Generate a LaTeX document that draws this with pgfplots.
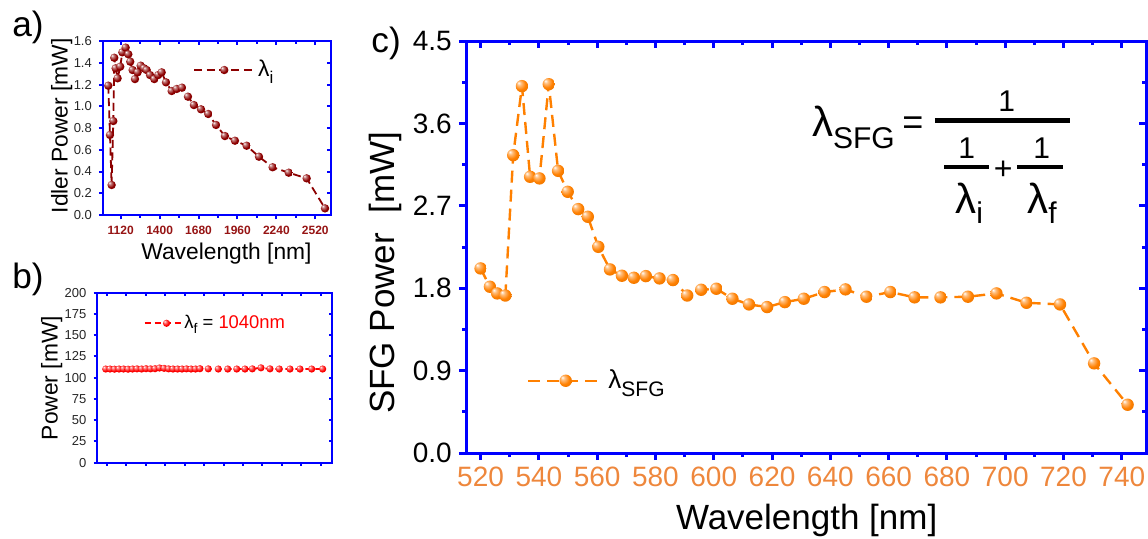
\documentclass[border=0pt]{standalone}
\usepackage{fontspec}
\setmainfont{Liberation Sans}
\usepackage{pgfplots}
\usepackage{pgfplotstable}
\pgfplotsset{compat=1.18}

\definecolor{axblue}{RGB}{0,0,255}
\definecolor{sfgorange}{RGB}{255,128,0}
\definecolor{sfgtick}{RGB}{238,135,60}
\definecolor{idlerred}{RGB}{140,0,0}
\definecolor{idlertick}{RGB}{150,20,20}
\definecolor{fundred}{RGB}{255,0,0}
\colorlet{mball}{sfgorange}
\newcommand{\fs}[1]{\fontsize{#1}{#1}\selectfont}

% soft shaded ball, colour taken from mball at use time
\pgfdeclareradialshading[mball]{softball}{\pgfpoint{-14bp}{14bp}}{%
  color(0bp)=(white); color(8bp)=(mball!50!white); color(22bp)=(mball);
  color(44bp)=(mball!85!black); color(50bp)=(mball!78!black)}
\pgfdeclareplotmark{ballO}{\colorlet{mball}{sfgorange}%
  \pgfpathcircle{\pgfpointorigin}{\pgfplotmarksize}\pgfshadepath{softball}{0}\pgfusepath{discard}}
\pgfdeclareplotmark{ballR}{\colorlet{mball}{fundred}%
  \pgfpathcircle{\pgfpointorigin}{\pgfplotmarksize}\pgfshadepath{softball}{0}\pgfusepath{discard}}
\pgfdeclareplotmark{ballD}{\colorlet{mball}{idlerred}%
  \pgfpathcircle{\pgfpointorigin}{\pgfplotmarksize}\pgfshadepath{softball}{0}\pgfusepath{discard}}

% idler power vs idler wavelength
\pgfplotstableread{
wl P
1031 1.189
1043 0.736
1055 0.276
1067 0.864
1074 1.446
1084 1.349
1098 1.257
1117 1.364
1132 1.496
1156 1.539
1175 1.478
1189 1.410
1206 1.333
1223 1.250
1242 1.312
1264 1.373
1288 1.349
1307 1.333
1331 1.287
1362 1.250
1390 1.287
1415 1.312
1446 1.220
1487 1.140
1523 1.159
1561 1.171
1604 1.088
1647 1.011
1698 0.972
1750 0.929
1806 0.828
1870 0.726
1942 0.683
2026 0.637
2115 0.536
2213 0.439
2329 0.389
2458 0.337
2590 0.061
}\idler

% fundamental power (constant)
\pgfplotstableread{
wl P
1012 110.2
1043 110.2
1075 110.0
1108 110.2
1140 110.2
1173 110.0
1205 110.2
1237 110.4
1270 110.2
1302 110.6
1334 110.4
1367 110.6
1399 111.4
1432 111.0
1464 110.4
1496 110.2
1529 110.2
1561 110.2
1593 110.4
1626 110.2
1658 110.2
1690 110.6
1750 110.4
1822 110.2
1890 110.2
1955 110.2
2014 110.2
2067 110.4
2129 111.6
2194 110.4
2261 110.2
2338 110.2
2410 110.2
2494 110.2
2573 110.2
}\fund

% SFG power vs SFG wavelength
\pgfplotstableread{
wl P
520.0 2.016
523.2 1.816
525.7 1.743
528.5 1.720
531.2 3.253
534.2 4.007
537.0 3.017
540.2 2.999
543.4 4.028
546.6 3.082
549.9 2.853
553.5 2.664
556.8 2.580
560.4 2.252
564.4 2.005
568.5 1.936
572.6 1.914
576.7 1.932
581.4 1.907
586.0 1.889
590.9 1.720
595.7 1.783
600.9 1.794
606.4 1.685
612.1 1.623
618.3 1.594
624.4 1.648
630.9 1.685
638.0 1.758
645.2 1.787
652.4 1.707
660.6 1.758
668.9 1.700
677.8 1.700
687.2 1.707
697.0 1.743
707.3 1.641
718.8 1.623
730.5 0.979
742.0 0.527
}\sfg

\pgfplotsset{
  panel/.style={scale only axis, anchor=south west,
    axis line style={axblue, line width=#1},
    tick style={axblue, line width=#1},
    /pgf/number format/assume math mode=true},
  mirror/.style={tick pos=right, tick align=inside, xticklabels={}, yticklabels={}},
  main/.style={tick pos=left, tick align=outside},
  oned/.style={/pgf/number format/.cd, fixed, fixed zerofill, precision=1},
}

\begin{document}
\begin{tikzpicture}
\path[use as bounding box] (0,0) rectangle (574pt,269pt);

% ---------- panel a ----------
\pgfplotsset{pa/.style={panel=1pt, at={(51.65pt,161.5pt)}, width=113.85pt, height=87pt,
  xmin=995, xmax=2633, ymin=0, ymax=1.6,
  xtick={1120,1400,1680,1960,2240,2520}, minor x tick num=1,
  ytick={0,0.2,0.4,0.6,0.8,1.0,1.2,1.4,1.6},
  major tick length=2.2pt, minor tick length=1.3pt}}
\begin{axis}[pa, mirror]
\end{axis}
\begin{axis}[pa, main,
  xticklabel style={font=\bfseries\fs{6}, text=idlertick, /pgf/number format/1000 sep={}},
  yticklabel style={font=\fs{6.5}, text=black!85, oned},
  xlabel={Wavelength [nm]}, ylabel={Idler Power [mW]},
  label style={font=\fs{11.4}},
  xlabel style={at={(axis description cs:0.541,-0.224)}, anchor=center},
  ylabel style={at={(axis description cs:-0.183,0.513)}, anchor=center},
  legend style={at={(axis cs:1640,1.333)}, anchor=west, draw=none, fill=none,
    inner sep=0pt, nodes={inner sep=1.5pt}},
  legend image code/.code={\draw[mark repeat=2, mark phase=2, #1]
    plot coordinates {(0pt,0pt) (15pt,0pt) (30pt,0pt)};}]
\addplot[idlerred, line width=0.9pt, line join=round, dash pattern=on 4pt off 2.2pt,
  mark=ballD, mark size=2.1pt, mark options={solid}]
  table[x=wl, y=P] {\idler};
\addlegendentry{\fs{11.4}λ\raisebox{-3.5pt}{\fs{8.5}i}}
\end{axis}

% ---------- panel b ----------
\pgfplotsset{pb/.style={panel=1pt, at={(48.35pt,37.65pt)}, width=117.5pt, height=85pt,
  xmin=947, xmax=2638, ymin=0, ymax=200,
  xtick={1020,1160,1300,1440,1580,1720,1860,2000,2140,2280,2420,2560},
  ytick={0,25,50,75,100,125,150,175,200},
  major tick length=1.6pt}}
\begin{axis}[pb, mirror]
\end{axis}
\begin{axis}[pb, main, xticklabels={},
  yticklabel style={font=\fs{6.5}, text=black!85},
  ylabel={Power [mW]},
  label style={font=\fs{11.4}},
  ylabel style={at={(axis description cs:-0.191,0.498)}, anchor=center},
  legend style={at={(axis cs:1282,164)}, anchor=west, draw=none, fill=none,
    inner sep=0pt, nodes={inner sep=1.5pt}},
  legend image code/.code={\draw[mark repeat=2, mark phase=2, #1]
    plot coordinates {(0pt,0pt) (11pt,0pt) (18pt,0pt)};}]
\addplot[fundred, line width=0.9pt, line join=round, dash pattern=on 3pt off 2pt,
  mark=ballR, mark size=1.8pt, mark options={solid}]
  table[x=wl, y=P] {\fund};
\addlegendentry{\fs{9.2}λ\raisebox{-2.5pt}{\fs{7}f} = \textcolor{fundred}{1040nm}}
\end{axis}

% ---------- panel c ----------
\pgfplotsset{pc/.style={panel=1.5pt, at={(233pt,42.5pt)}, width=340pt, height=206pt,
  xmin=515, xmax=748.3, ymin=0, ymax=4.5,
  xtick={520,540,...,740}, ytick={0,0.9,1.8,2.7,3.6,4.5},
  minor x tick num=1, minor y tick num=1,
  major tick length=3.6pt, minor tick length=2pt}}
\begin{axis}[pc, mirror]
\end{axis}
\begin{axis}[pc, main,
  xticklabel style={font=\fs{14}, text=sfgtick},
  yticklabel style={font=\fs{14}, oned},
  xlabel={Wavelength [nm]}, ylabel={SFG Power\ \ [mW]},
  label style={font=\fs{17.5}},
  xlabel style={at={(axis description cs:0.501,-0.163)}, anchor=center},
  ylabel style={at={(axis description cs:-0.119,0.437)}, anchor=center},
  legend style={at={(axis cs:535.8,0.789)}, anchor=west, draw=none, fill=none,
    inner sep=0pt, nodes={inner sep=2pt}},
  legend image code/.code={\draw[mark repeat=2, mark phase=2, #1]
    plot coordinates {(0pt,0pt) (18.75pt,0pt) (37.5pt,0pt)};}]
\addplot[sfgorange, line width=1.2pt, line join=round, dash pattern=on 6pt off 3.5pt,
  mark=ballO, mark size=3.1pt, mark options={solid}]
  table[x=wl, y=P] {\sfg};
\addlegendentry{\fs{13}λ\raisebox{-4pt}{\fs{10.5}SFG}}
% formula
\node[anchor=base west, inner sep=0pt] at (axis cs:633.6,3.453)
  {\fs{21}λ\raisebox{-5.8pt}{\fs{15}SFG}};
\node[inner sep=0pt] at (axis cs:668.3,3.57) {\fs{18}=};
\draw[black, line width=2.6pt] (axis cs:675.9,3.628) -- (axis cs:722.3,3.628);
\node[anchor=base, inner sep=0pt] at (axis cs:700.5,3.726) {\fs{15}1};
\draw[black, line width=2.2pt] (axis cs:679.0,3.126) -- (axis cs:694.5,3.126);
\draw[black, line width=2.2pt] (axis cs:704.1,3.126) -- (axis cs:719.7,3.126);
\node[anchor=base, inner sep=0pt] at (axis cs:686.8,3.217) {\fs{15}1};
\node[anchor=base, inner sep=0pt] at (axis cs:712.5,3.217) {\fs{15}1};
\node[inner sep=0pt] at (axis cs:699.3,3.09) {\fs{16}+};
\node[anchor=base west, inner sep=0pt] at (axis cs:682.8,2.617)
  {\fs{21}λ\raisebox{-5pt}{\fs{15}i}};
\node[anchor=base west, inner sep=0pt] at (axis cs:707.5,2.617)
  {\fs{21}λ\raisebox{-5pt}{\fs{15}f}};
\end{axis}

% panel letters
\node[anchor=base west, inner sep=0pt] at (6pt,250.7pt) {\fs{17.6}a)};
\node[anchor=base west, inner sep=0pt] at (6pt,125pt) {\fs{17.6}b)};
\node[anchor=base west, inner sep=0pt] at (185.5pt,243pt) {\fs{17.6}c)};
\end{tikzpicture}
\end{document}
